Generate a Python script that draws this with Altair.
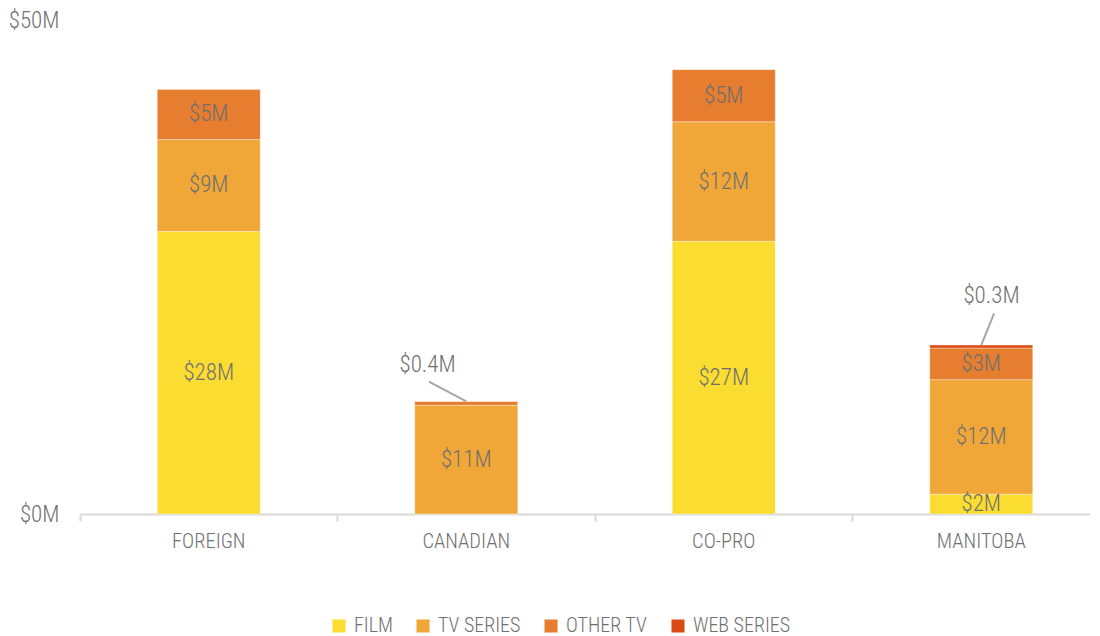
import altair as alt
import pandas as pd

# ---------------- data ----------------
categories = ["FOREIGN", "CANADIAN", "CO-PRO", "MANITOBA"]
series = ["FILM", "TV SERIES", "OTHER TV", "WEB SERIES"]
film = [28.6, 0.0, 27.6, 2.0]
tv_series = [9.3, 11.0, 12.1, 11.6]
other_tv = [5.1, 0.4, 5.3, 3.2]
web_series = [0.0, 0.0, 0.0, 0.3]
film_labels = ["$28M", "", "$27M", "$2M"]
tv_labels = ["$9M", "$11M", "$12M", "$12M"]
other_labels = ["$5M", "", "$5M", "$3M"]
web_labels = ["", "", "", ""]
colors = ["#FBDC31", "#F0A738", "#E67D2F", "#DD4B15"]

# call-outs for the very small segments
callout_category = ["CANADIAN", "MANITOBA"]
callout_text = ["$0.4M", "$0.3M"]
callout_label_pos = [1.35, 3.54]   # position across the category cells
callout_label_val = [15.1, 22.1]   # $M
callout_start_pos = [1.355, 3.55]
callout_start_val = [13.4, 20.3]
callout_end_pos = [1.50, 3.50]

FONT = "'Roboto Condensed', 'Liberation Sans Narrow', 'DejaVu Sans Condensed', sans-serif"
W = 300
TEXT = "#707070"
NUM_SIZE = 23
CAT_SIZE = 20.5

# layout of the band scale (the right end of the chart runs off the page)
STEP = 257.5
WIDTH = 1010
P_INNER = 0.6
P_OUTER = (WIDTH / STEP - (len(categories) - P_INNER)) / 2
ALIGN = (0.3 * STEP) / (WIDTH - STEP * (len(categories) - P_INNER))

rows = []
for ci, c in enumerate(categories):
    for si, (s, vals, labs) in enumerate(zip(series,
                                            [film, tv_series, other_tv, web_series],
                                            [film_labels, tv_labels, other_labels, web_labels])):
        rows.append({"category": c, "series": s, "value": vals[ci],
                     "label": labs[ci], "order": si})
df = pd.DataFrame(rows)

totals = df.groupby("category")["value"].sum()
cdf = pd.DataFrame({
    "category": callout_category,
    "text": callout_text,
    "lx": callout_label_pos,
    "ly": callout_label_val,
    "sx": callout_start_pos,
    "sy": callout_start_val,
    "ex": callout_end_pos,
    "ey": [totals[c] for c in callout_category],
})

x_enc = alt.X("category:N", sort=categories,
              scale=alt.Scale(paddingInner=P_INNER, paddingOuter=P_OUTER, align=ALIGN),
              axis=alt.Axis(title=None, labelAngle=0, bandPosition=-0.75,
                            domainColor="#d9d9d9", domainWidth=2, grid=False,
                            tickColor="#d9d9d9", tickWidth=2, tickSize=7,
                            labelPadding=10, labelFontSize=CAT_SIZE, labelColor=TEXT,
                            labelFont=FONT, labelFontWeight=W))
y_scale = alt.Scale(domain=[0, 50], nice=False)
y_axis = alt.Axis(values=[0, 50], labelExpr="'$' + datum.value + 'M'",
                  grid=False, ticks=False, domain=False, title=None,
                  labelPadding=21, labelFontSize=NUM_SIZE, labelColor=TEXT,
                  labelFont=FONT, labelFontWeight=W)

bars = alt.Chart(df).mark_bar(stroke="white", strokeOpacity=0.35, strokeWidth=1).encode(
    x=x_enc,
    y=alt.Y("value:Q", stack="zero", scale=y_scale, axis=y_axis),
    color=alt.Color("series:N", sort=series,
                    scale=alt.Scale(domain=series, range=colors),
                    legend=alt.Legend(title=None, orient="none", direction="horizontal",
                                      legendX=249, legendY=596,
                                      symbolType="square", symbolSize=170,
                                      symbolStrokeWidth=0, labelFontSize=20,
                                      labelColor=TEXT, labelFont=FONT,
                                      labelFontWeight=W,
                                      labelOffset=5, columnPadding=20)),
    order=alt.Order("order:Q"),
)

labels = alt.Chart(df).transform_stack(
    stack="value", groupby=["category"], sort=[alt.SortField("order")], as_=["y0", "y1"]
).transform_calculate(
    mid="(datum.y0 + datum.y1) / 2"
).transform_filter(
    "datum.label != ''"
).mark_text(fontSize=NUM_SIZE, color=TEXT, font=FONT, fontWeight=W, baseline="middle").encode(
    x=alt.X("category:N", sort=categories),
    y=alt.Y("mid:Q", scale=y_scale, axis=y_axis),
    text="label:N",
)

cx = alt.Scale(domain=[0, WIDTH / STEP], nice=False, zero=False)
lines = alt.Chart(cdf).mark_rule(color="#a6a6a6", strokeWidth=2).encode(
    x=alt.X("sx:Q", scale=cx, axis=None),
    x2="ex:Q",
    y=alt.Y("sy:Q", scale=y_scale, axis=y_axis),
    y2="ey:Q",
)
ctext = alt.Chart(cdf).mark_text(fontSize=NUM_SIZE, color=TEXT, font=FONT, fontWeight=W,
                                 baseline="middle").encode(
    x=alt.X("lx:Q", scale=cx, axis=None),
    y=alt.Y("ly:Q", scale=y_scale, axis=y_axis),
    text="text:N",
)

main = alt.layer(bars, labels)
callouts = alt.layer(lines, ctext)

chart = alt.layer(main, callouts).resolve_scale(x="independent").properties(
    width=WIDTH, height=494, padding={"left": 0, "top": 1, "right": 0, "bottom": 0}
).configure(font=FONT).configure_view(strokeWidth=0).configure_axis(grid=False)

chart.save("out.html", embed_options={"renderer": "svg", "actions": False})
